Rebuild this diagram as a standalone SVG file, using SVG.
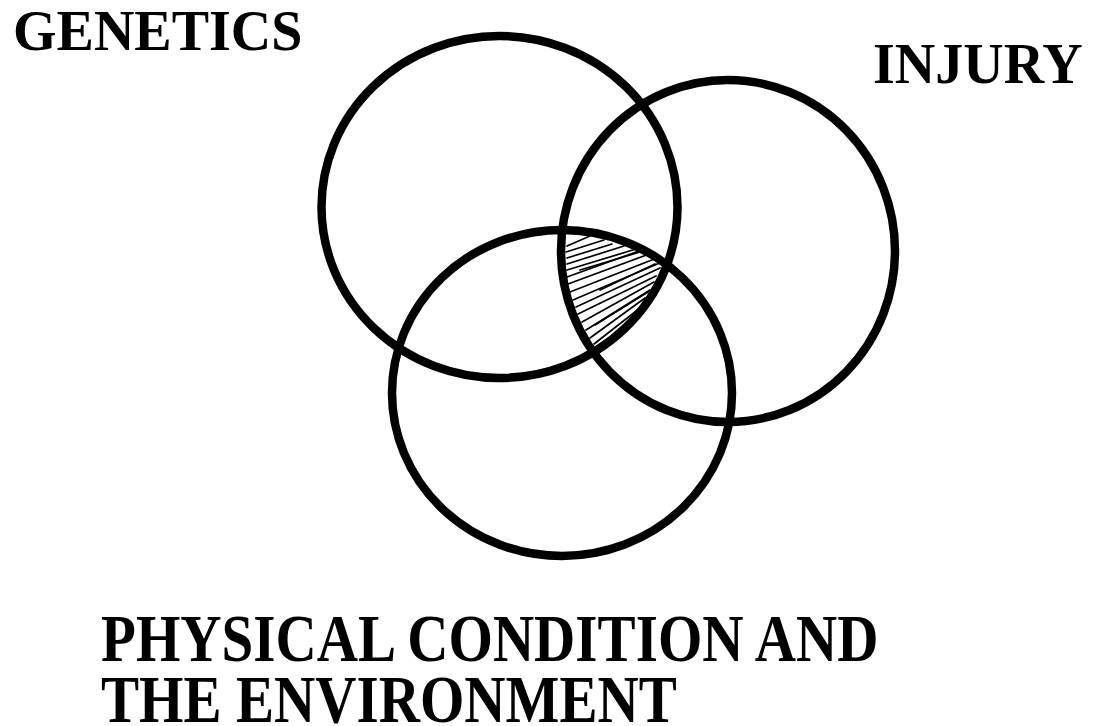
<svg xmlns="http://www.w3.org/2000/svg" width="1093" height="726" viewBox="0 0 1093 726">
<style>
.c{fill:none;stroke:#000;stroke-width:8.5}
.t{font-family:"Liberation Serif","Times New Roman",serif;font-weight:bold;fill:#000}
.h{stroke:#000;stroke-width:1.7;stroke-linecap:round}
</style>
<defs>
<clipPath id="k1"><ellipse cx="499.5" cy="207" rx="178" ry="171"/></clipPath>
<clipPath id="k2"><ellipse cx="728" cy="251" rx="167" ry="171"/></clipPath>
<clipPath id="k3"><ellipse cx="562" cy="393" rx="170" ry="163"/></clipPath>
</defs>
<rect width="1093" height="726" fill="#fff"/>
<g id="hatch" clip-path="url(#k1)"><g clip-path="url(#k2)"><g clip-path="url(#k3)">
<line class="h" x1="567" y1="246" x2="590" y2="236"/>
<line class="h" x1="566" y1="252" x2="604" y2="240"/>
<line class="h" x1="567" y1="258" x2="612" y2="244"/>
<line class="h" x1="567" y1="264" x2="624" y2="246"/>
<line class="h" x1="567" y1="270" x2="636" y2="249"/>
<line class="h" x1="567" y1="277" x2="650" y2="247"/>
<line class="h" x1="568" y1="284" x2="660" y2="250"/>
<line class="h" x1="570" y1="292" x2="662" y2="256"/>
<line class="h" x1="573" y1="300" x2="662" y2="262"/>
<line class="h" x1="576" y1="307" x2="660" y2="268"/>
<line class="h" x1="578" y1="314" x2="656" y2="276"/>
<line class="h" x1="582" y1="322" x2="654" y2="282"/>
<line class="h" x1="586" y1="330" x2="650" y2="290"/>
<line class="h" x1="590" y1="338" x2="645" y2="298"/>
<line class="h" x1="594" y1="344" x2="640" y2="308"/>
<line class="h" x1="580" y1="270" x2="640" y2="252"/>
<line class="h" x1="600" y1="290" x2="655" y2="264"/>
<line class="h" x1="595" y1="325" x2="648" y2="292"/>
</g></g></g>
<g id="genetics"><ellipse class="c" cx="499.5" cy="207" rx="178" ry="171"/></g>
<g id="injury"><ellipse class="c" cx="728" cy="251" rx="167" ry="171"/></g>
<g id="physical"><ellipse class="c" cx="562" cy="393" rx="170" ry="163"/></g>
<g id="labels">
<text class="t" x="13" y="50" font-size="56">GENETICS</text>
<text class="t" x="873" y="83" font-size="56">INJURY</text>
<text class="t" font-size="68" transform="translate(101,661) scale(0.84,1)">PHYSICAL CONDITION AND</text>
<text class="t" font-size="68" transform="translate(101,722) scale(0.84,1)">THE ENVIRONMENT</text>
</g>
</svg>
